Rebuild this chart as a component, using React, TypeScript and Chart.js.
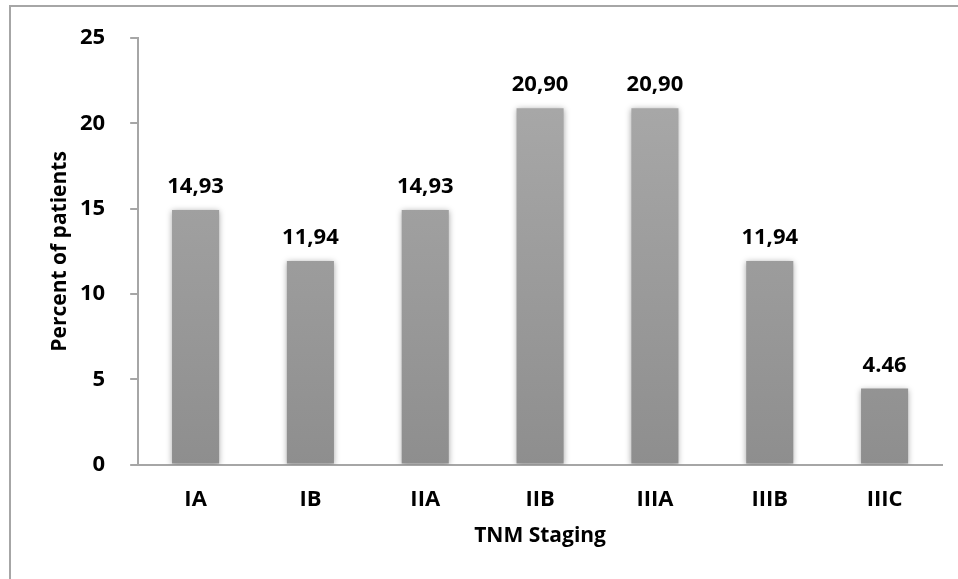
import React, { useEffect, useRef } from "react";
import { Chart, registerables } from "chart.js";

Chart.register(...registerables);

const categories = ["IA", "IB", "IIA", "IIB", "IIIA", "IIIB", "IIIC"];
const values = [14.93, 11.94, 14.93, 20.9, 20.9, 11.94, 4.46];
const valueLabels = ["14,93", "11,94", "14,93", "20,90", "20,90", "11,94", "4.46"];
const yTitle = "Percent of patients";
const xTitle = "TNM Staging";

const FONT = "'Open Sans', 'DejaVu Sans', sans-serif";

export default function App() {
  const ref = useRef<HTMLCanvasElement | null>(null);

  useEffect(() => {
    if (!ref.current) return;
    const ctx = ref.current.getContext("2d")!;

    const frame = {
      id: "frame",
      beforeDraw(chart: any) {
        const c = chart.ctx;
        c.save();
        c.strokeStyle = "#a6a6a6";
        c.lineWidth = 2;
        c.beginPath();
        c.moveTo(10, 600);
        c.lineTo(10, 6);
        c.lineTo(958, 6);
        c.stroke();
        c.restore();
      },
    };

    const titles = {
      id: "titles",
      afterDraw(chart: any) {
        const c = chart.ctx;
        const a = chart.chartArea;
        c.save();
        c.font = `bold 21px ${FONT}`;
        c.fillStyle = "#000";
        c.textAlign = "center";
        c.textBaseline = "middle";
        c.fillText(xTitle, (a.left + a.right) / 2, 536);
        c.translate(60, (a.top + a.bottom) / 2);
        c.rotate(-Math.PI / 2);
        c.fillText(yTitle, 0, 0);
        c.restore();
      },
    };

    const shadow = {
      id: "shadow",
      beforeDatasetDraw(chart: any) {
        const c = chart.ctx;
        c.save();
        c.shadowColor = "rgba(0,0,0,0.35)";
        c.shadowBlur = 6;
        c.shadowOffsetX = 0;
        c.shadowOffsetY = 1;
      },
      afterDatasetDraw(chart: any) {
        chart.ctx.restore();
      },
    };

    const labels = {
      id: "valueLabels",
      afterDatasetsDraw(chart: any) {
        const c = chart.ctx;
        const meta = chart.getDatasetMeta(0);
        c.save();
        c.font = `bold 22px ${FONT}`;
        c.fillStyle = "#000";
        c.textAlign = "center";
        c.textBaseline = "alphabetic";
        meta.data.forEach((bar: any, i: number) => {
          c.fillText(valueLabels[i], bar.x, bar.y - 17);
        });
        c.restore();
      },
    };

    const chart = new Chart(ctx, {
      type: "bar",
      data: {
        labels: categories,
        datasets: [
          {
            data: values,
            backgroundColor: (context: any) => {
              const area = context.chart.chartArea;
              if (!area) return "#a0a0a0";
              const g = context.chart.ctx.createLinearGradient(0, area.top, 0, area.bottom);
              g.addColorStop(0, "#acacac");
              g.addColorStop(1, "#8e8e8e");
              return g;
            },
            borderWidth: 0,
            categoryPercentage: 1,
            barPercentage: 0.41,
          },
        ],
      },
      options: {
        animation: false,
        responsive: false,
        maintainAspectRatio: false,
        layout: { padding: { top: 20, right: 16, left: 55, bottom: 52 } },
        plugins: {
          legend: { display: false },
          tooltip: { enabled: false },
        },
        scales: {
          x: {
            grid: { display: false },
            border: { display: true, color: "#a6a6a6", width: 2 },
            ticks: {
              color: "#000",
              font: { family: FONT, size: 22, weight: "bold" },
              padding: 14,
            },
          },
          y: {
            min: 0,
            max: 25,
            ticks: {
              stepSize: 5,
              color: "#000",
              font: { family: FONT, size: 22, weight: "bold" },
              padding: 25,
            },
            grid: {
              drawOnChartArea: false,
              drawTicks: true,
              tickLength: 8,
              color: "#a6a6a6",
              lineWidth: 2,
            },
            border: { display: true, color: "#a6a6a6", width: 2 },
          },
        },
      },
      plugins: [frame, shadow, labels, titles],
    });

    return () => chart.destroy();
  }, []);

  return (
    <div style={{ position: "absolute", left: 0, top: 0, width: 958, height: 579, background: "#fff" }}>
      <canvas ref={ref} width={958} height={579} style={{ display: "block" }} />
    </div>
  );
}
